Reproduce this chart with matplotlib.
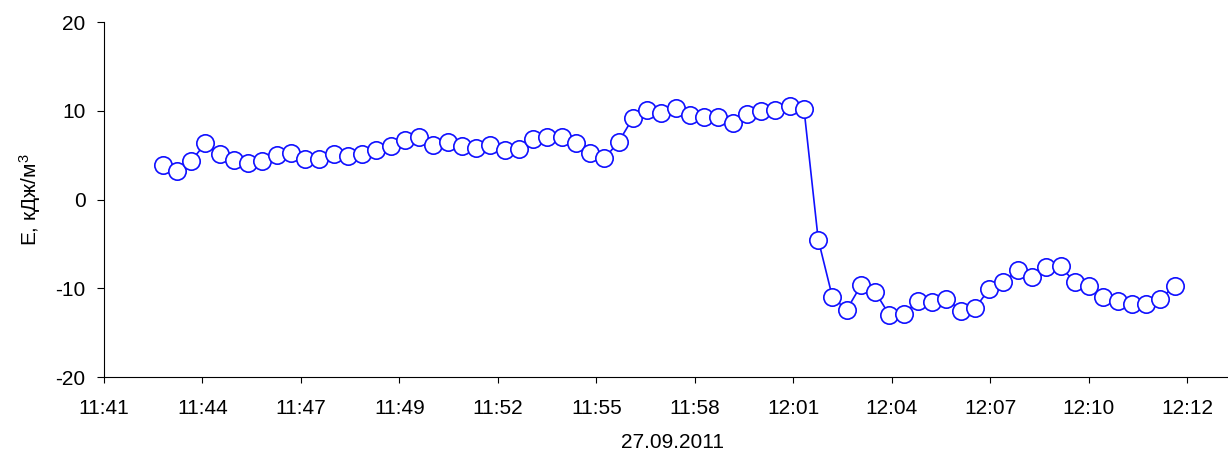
import matplotlib
matplotlib.use('Agg')
import matplotlib.pyplot as plt

plt.rcParams['font.family'] = ['Liberation Sans', 'DejaVu Sans']
plt.rcParams['mathtext.default'] = 'regular'
plt.rcParams['axes.unicode_minus'] = False

# measurement times (27.09.2011)
times = ['11:43:00', '11:43:25', '11:43:50', '11:44:15', '11:44:40', '11:45:05',
         '11:45:30', '11:45:55', '11:46:20', '11:46:45', '11:47:10', '11:47:35',
         '11:48:00', '11:48:25', '11:48:50', '11:49:15', '11:49:40', '11:50:05',
         '11:50:30', '11:50:55', '11:51:20', '11:51:45', '11:52:10', '11:52:35',
         '11:53:00', '11:53:25', '11:53:50', '11:54:15', '11:54:40', '11:55:05',
         '11:55:30', '11:55:55', '11:56:20', '11:56:45', '11:57:10', '11:57:35',
         '11:58:00', '11:58:25', '11:58:50', '11:59:15', '11:59:40', '12:00:05',
         '12:00:30', '12:00:55', '12:01:20', '12:01:45', '12:02:10', '12:02:35',
         '12:03:00', '12:03:25', '12:03:50', '12:04:15', '12:04:40', '12:05:05',
         '12:05:30', '12:05:55', '12:06:20', '12:06:45', '12:07:10', '12:07:35',
         '12:08:00', '12:08:25', '12:08:50', '12:09:15', '12:09:40', '12:10:05',
         '12:10:30', '12:10:55', '12:11:20', '12:11:45', '12:12:10', '12:12:35']

energy = [3.84, 3.24, 4.33, 6.32, 5.08, 4.44, 4.14, 4.33, 4.97, 5.27,
          4.59, 4.59, 5.08, 4.89, 5.08, 5.53, 6.02, 6.69, 7.07, 6.17,
          6.51, 6.02, 5.76, 6.17, 5.53, 5.64, 6.77, 7.07, 7.07, 6.32,
          5.27, 4.63, 6.51, 9.18, 10.08, 9.78, 10.27, 9.48, 9.33, 9.33,
          8.58, 9.67, 9.93, 10.08, 10.53, 10.23, -4.51, -11.02, -12.42, -9.67,
          -10.42, -13.02, -12.87, -11.47, -11.59, -11.17, -12.53, -12.26, -10.08, -9.33,
          -7.94, -8.73, -7.64, -7.52, -9.33, -9.78, -11.02, -11.44, -11.74, -11.74,
          -11.17, -9.78]

# x ticks are day fractions (Excel style), labels as shown on the axis
tick_pos = [0.487, 0.489, 0.491, 0.493, 0.495, 0.497,
            0.499, 0.501, 0.503, 0.505, 0.507, 0.509]
tick_labels = ['11:41', '11:44', '11:47', '11:49', '11:52', '11:55',
               '11:58', '12:01', '12:04', '12:07', '12:10', '12:12']
y_ticks = [-20, -10, 0, 10, 20]


def day_fraction(t):
    h, m, s = t.split(':')
    return int(h) / 24 + int(m) / 1440 + int(s) / 86400


x = [day_fraction(t) for t in times]

fig = plt.figure(figsize=(12.28, 4.5), dpi=100)
ax = fig.add_axes([0.0845, 0.1622, 0.9155, 0.7889])

ax.plot(x, energy, color='#1010ff', linewidth=1.2, marker='o', markersize=12.5,
        markerfacecolor='white', markeredgecolor='#1010ff', markeredgewidth=1.2)

ax.set_xlim(0.487, 0.509824)
ax.set_ylim(-20, 20)
ax.set_xticks(tick_pos)
ax.set_xticklabels(tick_labels)
ax.set_yticks(y_ticks)
ax.set_yticklabels([str(v) for v in y_ticks])

ax.spines['top'].set_visible(False)
ax.spines['right'].set_visible(False)
ax.spines['left'].set_linewidth(0.8)
ax.spines['bottom'].set_linewidth(0.8)
ax.tick_params(axis='x', direction='out', length=4.5, width=0.8, pad=11, labelsize=15)
ax.tick_params(axis='y', direction='out', length=5, width=0.8, pad=8, labelsize=15)

ax.set_ylabel('E, кДж/м$^3$', fontsize=15)
ax.yaxis.set_label_coords(-0.054, 0.5)
ax.set_xlabel('27.09.2011', fontsize=15)
ax.xaxis.set_label_coords(0.5055, -0.157)

fig.savefig('out.png', dpi=100)
